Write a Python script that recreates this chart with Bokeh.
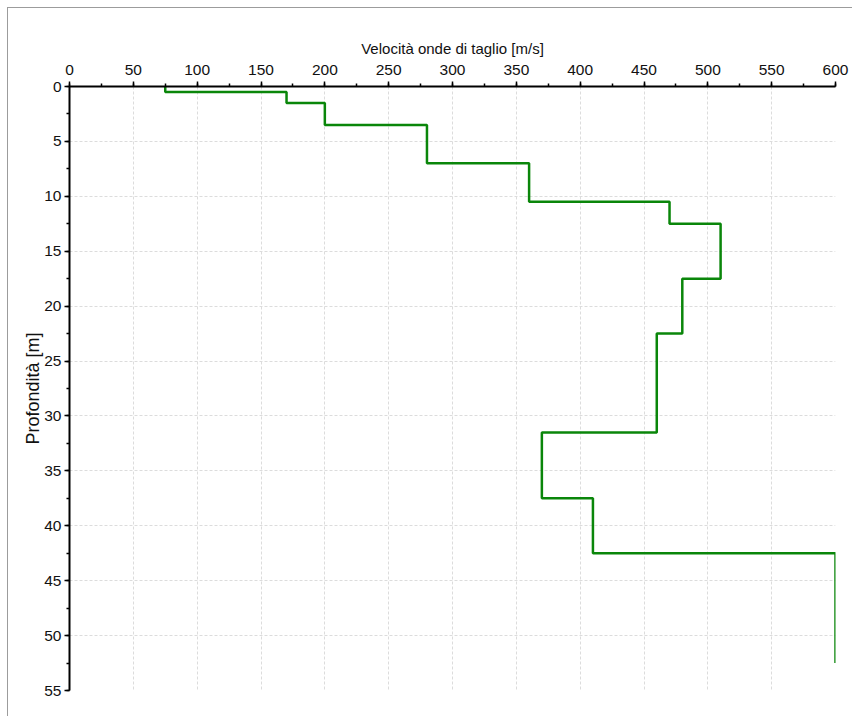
from bokeh.plotting import figure
from bokeh.models import Range1d, SingleIntervalTicker
from bokeh.embed import file_html
from bokeh.resources import INLINE

# Shear-wave velocity profile: layer tops/bottoms (m) and Vs (m/s)
depth_top = [0, 0.5, 1.5, 3.5, 7, 10.5, 12.5, 17.5, 22.5, 31.5, 37.5, 42.5]
depth_bottom = [0.5, 1.5, 3.5, 7, 10.5, 12.5, 17.5, 22.5, 31.5, 37.5, 42.5, 52.5]
vs = [75, 170, 200, 280, 360, 470, 510, 480, 460, 370, 410, 600]

x_title = "Velocità onde di taglio [m/s]"
y_title = "Profondità [m]"

# Stepped path: vertical run through each layer, then horizontal jump to the next
xs, ys = [], []
for i, v in enumerate(vs):
    xs += [v, v]
    ys += [depth_top[i], depth_bottom[i]]

FONT = "Liberation Sans"

# canvas sits inside a thin grey panel edge (left and top) 7 px from the window edge
p = figure(
    width=845, height=709,
    x_range=Range1d(0, 600), y_range=Range1d(55, 0),
    x_axis_location="above",
    output_backend="svg", toolbar_location=None,
    min_border_left=61, min_border_top=78,
    min_border_right=18, min_border_bottom=27,
)
p.styles = {
    "margin-left": "7px", "margin-top": "7px",
    "border-left": "1px solid #9c9c9c", "border-top": "1px solid #9c9c9c",
}
p.outline_line_color = None
p.background_fill_color = "white"
p.border_fill_color = "white"

p.line(xs, ys, line_color="#0a860a", line_width=2.5)

xa = p.xaxis[0]
xa.ticker = SingleIntervalTicker(interval=50, num_minor_ticks=2)
ya = p.yaxis[0]
ya.ticker = SingleIntervalTicker(interval=5, num_minor_ticks=2)

for ax in (xa, ya):
    ax.axis_line_color = "black"
    ax.axis_line_width = 2
    ax.major_tick_line_color = "black"
    ax.major_tick_line_width = 1.5
    ax.minor_tick_line_color = "black"
    ax.minor_tick_line_width = 1.5
    ax.major_tick_in = 0
    ax.major_tick_out = 5
    ax.minor_tick_in = 0
    ax.minor_tick_out = 3
    ax.major_label_text_font = FONT
    ax.major_label_text_font_size = "15.5px"
    ax.major_label_text_color = "#111111"
    ax.axis_label_text_font = FONT
    ax.axis_label_text_font_style = "normal"
    ax.axis_label_text_color = "#111111"

xa.axis_label = x_title
xa.axis_label_text_font_size = "15px"
xa.major_label_standoff = 7
xa.axis_label_standoff = 5

ya.axis_label = y_title
ya.axis_label_text_font_size = "18px"
ya.major_label_standoff = 3
ya.axis_label_standoff = -2

for g in (p.xgrid[0], p.ygrid[0]):
    g.grid_line_color = "#dcdcdc"
    g.grid_line_width = 1
    g.grid_line_dash = "3 2"

open("out.html", "w").write(file_html(p, INLINE))
